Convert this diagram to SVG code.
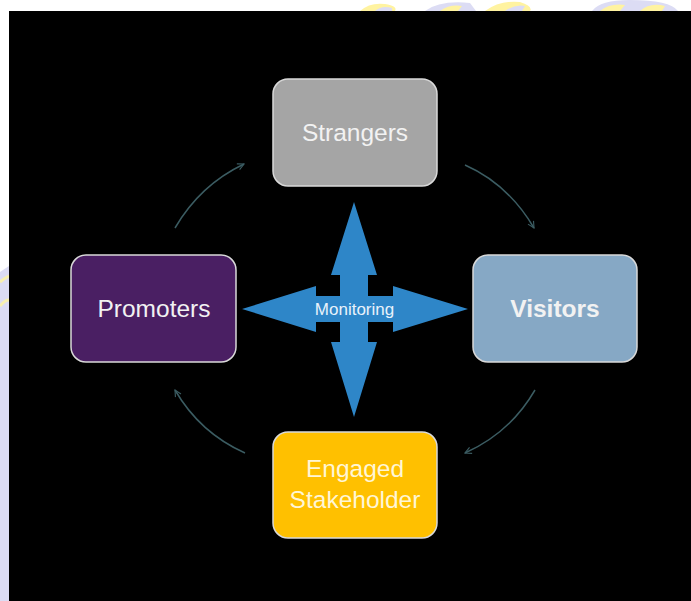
<svg xmlns="http://www.w3.org/2000/svg" width="691" height="601" viewBox="0 0 691 601">
<style>
.box{stroke:#d9d9d9;stroke-width:1.5}
.lbl{font-family:"Liberation Sans","Open Sans",sans-serif;font-size:24.5px;text-anchor:middle;fill:#f2f2f2}
.cyc{fill:none;stroke:#3b5c62;stroke-width:1.5;marker-end:url(#ah)}
</style>
<defs>
<marker id="ah" viewBox="0 0 10 10" refX="9" refY="5" markerWidth="8" markerHeight="8" orient="auto" markerUnits="userSpaceOnUse">
<path d="M1,1 L9,5 L1,9" fill="none" stroke="#3b5c62" stroke-width="1.4"/>
</marker>
</defs>
<rect x="0" y="0" width="691" height="601" fill="#ffffff"/>
<g id="backdrop">
<path d="M0,272 L9,266 L9,601 L0,601 Z" fill="#dcdcf4"/>
<path d="M0,282 Q5,278 9,276" stroke="#f8f0b0" stroke-width="3" fill="none"/>
<path d="M0,306 Q5,300 9,300" stroke="#f8f0b0" stroke-width="3" fill="none"/>
<path d="M360,11 Q370,2 385,4 Q398,6 395,11 Z" fill="#fff3a0"/>
<path d="M375,11 Q382,5 392,8 L392,11 Z" fill="#dcdcf4"/>
<path d="M425,11 Q440,0 470,3 L476,11 Z" fill="#dcdcf4"/>
<path d="M440,11 Q450,4 462,6 L458,11 Z" fill="#fff3a0"/>
<path d="M485,11 Q500,0 520,2 Q533,6 530,11 Z" fill="#fff3a0"/>
<path d="M505,11 Q515,4 525,6 L522,11 Z" fill="#dcdcf4"/>
<path d="M592,11 Q600,0 630,0 Q670,0 678,11 Z" fill="#dcdcf4"/>
<path d="M600,11 Q610,3 625,5 L620,11 Z" fill="#fff3a0"/>
<path d="M640,11 Q650,2 665,6 L662,11 Z" fill="#fff3a0"/>
<rect x="9" y="11" width="682" height="590" fill="#000000"/>
</g>
<g id="connectors">
<path class="cyc" d="M175,228 Q200,185 244,164"/>
<path class="cyc" d="M465,165 Q508,184 534,228"/>
<path class="cyc" d="M535,390 Q510,433 465,453"/>
<path class="cyc" d="M245,453 Q200,433 175,390"/>
</g>
<g id="monitoring">
<polygon fill="#2e86c8" points="354,202 377,275 368,275 368,296 393,296 393,286 468,309 393,332 393,322 368,322 368,342 377,342 354,417 331,342 340,342 340,322 316,322 316,332 242,309 316,286 316,296 340,296 340,275 331,275"/>
<text x="354.5" y="315" style="font-family:'Liberation Sans','Open Sans',sans-serif;font-size:17px;fill:#e8f2fb;text-anchor:middle">Monitoring</text>
</g>
<g id="strangers">
<rect class="box" x="273" y="79" width="164" height="107" rx="15" fill="#a5a5a5"/>
<text class="lbl" x="355" y="141">Strangers</text>
</g>
<g id="promoters">
<rect class="box" x="71" y="255" width="165" height="107" rx="15" fill="#4a1f63"/>
<text class="lbl" x="154" y="317">Promoters</text>
</g>
<g id="visitors">
<rect class="box" x="473" y="255" width="164" height="107" rx="15" fill="#86a8c5"/>
<text class="lbl" x="555" y="317" font-weight="bold">Visitors</text>
</g>
<g id="engaged">
<rect class="box" x="273" y="432" width="164" height="106" rx="15" fill="#ffc000"/>
<text class="lbl" x="355" y="477" style="fill:#fff6d6">Engaged</text>
<text class="lbl" x="355" y="508" style="fill:#fff6d6">Stakeholder</text>
</g>
</svg>
